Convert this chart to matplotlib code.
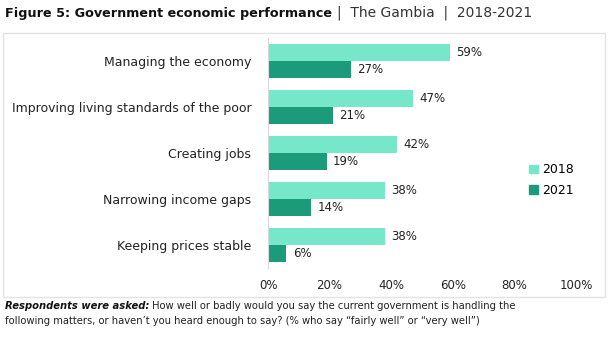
import matplotlib
matplotlib.use("Agg")
import matplotlib.pyplot as plt
from matplotlib.patches import Rectangle, Patch
import numpy as np

# Data
categories = ["Managing the economy", "Improving living standards of the poor",
              "Creating jobs", "Narrowing income gaps", "Keeping prices stable"]
vals_2018 = [59, 47, 42, 38, 38]
vals_2021 = [27, 21, 19, 14, 6]
ticks = [0, 20, 40, 60, 80, 100]

c2018 = "#76E8C9"
c2021 = "#1B9B7A"
txt = "#222222"

plt.rcParams['font.family'] = ['DejaVu Sans']
W, H = 616, 337
fig = plt.figure(figsize=(W / 100, H / 100), dpi=100)

# light frame around chart
fig.patches.append(Rectangle((3 / W, 1 - 297 / H), 602 / W, 264 / H, transform=fig.transFigure,
                             fill=False, edgecolor="#E3E3E3", linewidth=1))

ax = fig.add_axes([268 / W, 1 - 268 / H, 308 / W, 230 / H])
y = np.arange(len(categories))
bh = 0.38
ax.barh(y - bh / 2, vals_2018, height=bh, color=c2018, label="2018")
ax.barh(y + bh / 2, vals_2021, height=bh, color=c2021, label="2021")
for i in range(len(categories)):
    ax.text(vals_2018[i] + 2, y[i] - bh / 2, f"{vals_2018[i]}%", va="center", fontsize=8.5, color=txt)
    ax.text(vals_2021[i] + 2, y[i] + bh / 2, f"{vals_2021[i]}%", va="center", fontsize=8.5, color=txt)

ax.set_xlim(0, 100)
ax.set_ylim(4.5, -0.5)
ax.set_yticks(y)
ax.set_yticklabels(categories, fontsize=9, color=txt)
ax.set_xticks(ticks)
ax.set_xticklabels([f"{t}%" for t in ticks], fontsize=8.5, color=txt)
ax.tick_params(length=0, pad=8)
ax.tick_params(axis="y", pad=12)
for s in ["top", "right", "bottom"]:
    ax.spines[s].set_visible(False)
ax.spines["left"].set_color("#D9D9D9")

handles = [Patch(color=c2018, label="2018"), Patch(color=c2021, label="2021")]
fig.legend(handles=handles, loc="center left", bbox_to_anchor=(518 / W, 1 - 180 / H),
           frameon=False, fontsize=9, handlelength=0.7, handleheight=0.7, handletextpad=0.3,
           labelspacing=0.6)

# title
fig.canvas.draw()
r = fig.canvas.get_renderer()
t1 = fig.text(5 / W, 1 - 13 / H, "Figure 5: Government economic performance", fontsize=9.2,
              fontweight="bold", va="center", color="#111111")
bb = t1.get_window_extent(r)
fig.text(bb.x1 / W + 5 / W, 1 - 13 / H, "|  The Gambia  |  2018-2021", fontsize=10,
         va="center", color="#333333")

# footer
f1 = fig.text(5 / W, 1 - 306 / H, "Respondents were asked:", fontsize=7.2, fontweight="bold",
              style="italic", va="center", color="#111111")
bb = f1.get_window_extent(r)
fig.text(bb.x1 / W + 3 / W, 1 - 306 / H,
         "How well or badly would you say the current government is handling the",
         fontsize=7.2, va="center", color="#222222")
fig.text(5 / W, 1 - 321 / H,
         "following matters, or haven\u2019t you heard enough to say? (% who say \u201cfairly well\u201d or \u201cvery well\u201d)",
         fontsize=7.2, va="center", color="#222222")

fig.savefig("out.png", dpi=100)
